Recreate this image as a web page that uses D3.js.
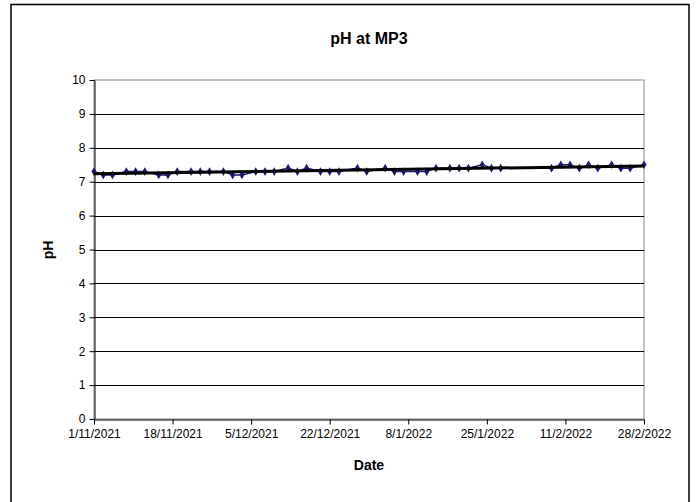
<!DOCTYPE html>
<html><head><meta charset="utf-8">
<script src="https://cdn.jsdelivr.net/npm/d3@7"></script>
<style>body{margin:0;background:#fff}svg{display:block}text{font-family:"Liberation Sans",Arial,sans-serif}</style>
</head><body>
<svg id="c" width="697" height="502"></svg>
<script>
const dates = ["2021-11-01","2021-11-03","2021-11-05","2021-11-08","2021-11-10","2021-11-12","2021-11-15","2021-11-17","2021-11-19","2021-11-22","2021-11-24","2021-11-26","2021-11-29","2021-12-01","2021-12-03","2021-12-06","2021-12-08","2021-12-10","2021-12-13","2021-12-15","2021-12-17","2021-12-20","2021-12-22","2021-12-24","2021-12-28","2021-12-30","2022-01-03","2022-01-05","2022-01-07","2022-01-10","2022-01-12","2022-01-14","2022-01-17","2022-01-19","2022-01-21","2022-01-24","2022-01-26","2022-01-28","2022-02-08","2022-02-10","2022-02-12","2022-02-14","2022-02-16","2022-02-18","2022-02-21","2022-02-23","2022-02-25","2022-02-28"];
const phValues = [7.3,7.2,7.2,7.3,7.3,7.3,7.2,7.2,7.3,7.3,7.3,7.3,7.3,7.2,7.2,7.3,7.3,7.3,7.4,7.3,7.4,7.3,7.3,7.3,7.4,7.3,7.4,7.3,7.3,7.3,7.3,7.4,7.4,7.4,7.4,7.5,7.4,7.4,7.4,7.5,7.5,7.4,7.5,7.4,7.5,7.4,7.4,7.5];
const xTickDates = ["2021-11-01","2021-11-18","2021-12-05","2021-12-22","2022-01-08","2022-01-25","2022-02-11","2022-02-28"];
const yTicks = [0,1,2,3,4,5,6,7,8,9,10];

const parse = d3.utcParse("%Y-%m-%d");
const fmt = d => `${d.getUTCDate()}/${d.getUTCMonth()+1}/${d.getUTCFullYear()}`;
const data = dates.map((d,i)=>({date:parse(d), v:phValues[i]}));

const svg = d3.select("#c");
const L=94, R=644, T=80, B=419;
const x = d3.scaleUtc().domain([parse(xTickDates[0]), parse(xTickDates[xTickDates.length-1])]).range([L,R]);
const y = d3.scaleLinear().domain([0,10]).range([B,T]);

// outer border
svg.append("rect").attr("x",11).attr("y",4.5).attr("width",678).attr("height",520)
  .attr("fill","none").attr("stroke","#000").attr("stroke-width",1.5);

// plot border (gray)
svg.append("rect").attr("x",L).attr("y",T).attr("width",R-L).attr("height",B-T)
  .attr("fill","none").attr("stroke","#888").attr("stroke-width",1);

// gridlines
svg.append("g").selectAll("line").data(yTicks.filter(t=>t>0&&t<10)).join("line")
  .attr("x1",L).attr("x2",R).attr("y1",d=>Math.round(y(d))+0.5).attr("y2",d=>Math.round(y(d))+0.5)
  .attr("stroke","#000").attr("stroke-width",1);

// y axis
const ya = svg.append("g").attr("transform",`translate(${L+0.5},0)`)
  .call(d3.axisLeft(y).tickValues(yTicks).tickSize(5).tickSizeOuter(0).tickPadding(4));
ya.select(".domain").attr("stroke","#000");
ya.selectAll("text").attr("font-size",12).attr("fill","#000");

// x axis
const xa = svg.append("g").attr("transform",`translate(0,${B+0.5})`)
  .call(d3.axisBottom(x).tickValues(xTickDates.map(parse)).tickFormat(fmt).tickSize(5).tickSizeOuter(0).tickPadding(5));
xa.select(".domain").attr("stroke","#000");
xa.selectAll("text").attr("font-size",12).attr("fill","#000");

// data line
svg.append("path").datum(data).attr("fill","none").attr("stroke","#1a1a6e").attr("stroke-width",1.5)
  .attr("d",d3.line().x(d=>x(d.date)).y(d=>y(d.v)));

// markers
svg.append("g").selectAll("path").data(data).join("path")
  .attr("transform",d=>`translate(${x(d.date)},${y(d.v)})`)
  .attr("d",d3.symbol(d3.symbolDiamond,22)).attr("fill","#1a1a6e");

// linear trendline
const xs = data.map(d=>+d.date), vs = data.map(d=>d.v);
const mx = d3.mean(xs), mv = d3.mean(vs);
const slope = d3.sum(xs.map((t,i)=>(t-mx)*(vs[i]-mv)))/d3.sum(xs.map(t=>(t-mx)*(t-mx)));
const icpt = mv - slope*mx;
const [d0,d1] = x.domain();
svg.append("line").attr("x1",x(d0)).attr("x2",x(d1))
  .attr("y1",y(icpt+slope*(+d0))).attr("y2",y(icpt+slope*(+d1)))
  .attr("stroke","#000").attr("stroke-width",3);

// titles
svg.append("text").attr("x",369).attr("y",44).attr("text-anchor","middle")
  .attr("font-size",16).attr("font-weight","bold").text("pH at MP3");
svg.append("text").attr("x",369).attr("y",470).attr("text-anchor","middle")
  .attr("font-size",14).attr("font-weight","bold").text("Date");
svg.append("text").attr("transform","translate(53,250) rotate(-90)").attr("text-anchor","middle")
  .attr("font-size",14).attr("font-weight","bold").text("pH");
</script>
</body></html>
